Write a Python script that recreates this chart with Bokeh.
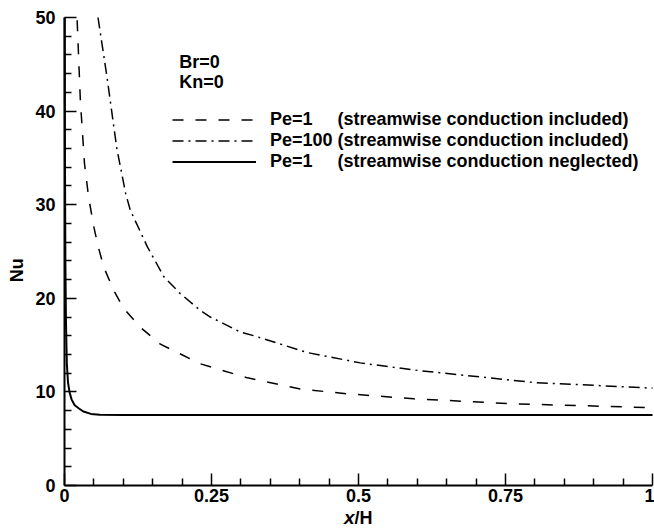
import math
from bokeh.plotting import figure
from bokeh.models import Legend, LegendItem, Label, FixedTicker
from bokeh.embed import file_html
from bokeh.resources import INLINE

# ---- data ----
x_pe1_inc = [0.0215, 0.027, 0.034, 0.041, 0.050, 0.057, 0.067, 0.084, 0.101, 0.129,
             0.163, 0.231, 0.311, 0.401, 0.481, 0.594, 0.764, 0.968, 1.0]
nu_pe1_inc = [49.7, 41.1, 34.4, 30.8, 27.6, 25.6, 23.3, 20.8, 18.9, 16.9,
              15.1, 13.0, 11.5, 10.3, 9.8, 9.26, 8.73, 8.37, 8.32]

x_pe100_inc = [0.057, 0.0726, 0.089, 0.104, 0.112, 0.141, 0.169, 0.197, 0.231, 0.248,
               0.299, 0.322, 0.413, 0.503, 0.600, 0.798, 1.0]
nu_pe100_inc = [50.0, 43.5, 36.0, 31.2, 29.4, 25.5, 22.3, 20.5, 18.7, 18.0,
                16.4, 16.0, 14.2, 13.1, 12.3, 11.0, 10.4]

x_pe1_neg = [0.0004, 0.0008, 0.0015, 0.0025, 0.004, 0.006, 0.0085, 0.012, 0.017,
             0.024, 0.032, 0.045, 0.06, 0.1, 0.5, 1.0]
nu_pe1_neg = [50.0, 35.0, 24.0, 17.5, 13.0, 11.0, 10.0, 9.2, 8.6,
              8.25, 7.9, 7.65, 7.56, 7.54, 7.54, 7.54]

x_ticks = [0, 0.25, 0.5, 0.75, 1]
x_tick_labels = ["0", "0.25", "0.5", "0.75", "1"]
x_minor = [0.05, 0.1, 0.15, 0.2, 0.3, 0.35, 0.4, 0.45, 0.55, 0.6, 0.65, 0.7,
           0.8, 0.85, 0.9, 0.95]
y_ticks = [0, 10, 20, 30, 40, 50]
y_minor = [2, 4, 6, 8, 12, 14, 16, 18, 22, 24, 26, 28, 32, 34, 36, 38, 42, 44, 46, 48]

legend_labels = [
    "Pe=1\u00a0\u00a0\u00a0\u00a0\u00a0(streamwise conduction included)",
    "Pe=100 (streamwise conduction included)",
    "Pe=1\u00a0\u00a0\u00a0\u00a0\u00a0(streamwise conduction neglected)",
]
params = ["Br=0", "Kn=0"]
y_label = "Nu"
x_label_italic = "x"
x_label_rest = "/H"

FONT = "Liberation Sans"

# data window: axes sit at x=0 / y=0 inside a frame that fills the canvas
p = figure(width=654, height=530, x_range=(-0.10884, 1.0034), y_range=(-4.808, 51.816),
           output_backend="svg", toolbar_location=None,
           min_border_left=0, min_border_right=0, min_border_top=0, min_border_bottom=0)
p.outline_line_color = None
p.xgrid.visible = False
p.ygrid.visible = False
p.background_fill_color = "white"
p.border_fill_color = "white"

r1 = p.line(x_pe1_inc, nu_pe1_inc, line_color="black", line_width=1.5, line_dash="11 12")
r2 = p.line(x_pe100_inc, nu_pe100_inc, line_color="black", line_width=1.5, line_dash="11 5 2 5")
r3 = p.line(x_pe1_neg, nu_pe1_neg, line_color="black", line_width=2)

for ax in (p.xaxis[0], p.yaxis[0]):
    ax.fixed_location = 0
    ax.axis_line_color = "black"
    ax.axis_line_width = 2
    ax.major_tick_line_color = "black"
    ax.minor_tick_line_color = "black"
    ax.major_tick_line_width = 1.5
    ax.minor_tick_line_width = 1.5
    ax.major_tick_in = 12
    ax.major_tick_out = 0
    ax.minor_tick_in = 7
    ax.minor_tick_out = 0
    ax.major_label_text_font = FONT
    ax.major_label_text_font_style = "bold"
    ax.major_label_text_font_size = "18px"
    ax.major_label_text_color = "black"

p.xaxis.bounds = (0, 1)
p.xaxis.ticker = FixedTicker(ticks=x_ticks, minor_ticks=x_minor)
p.xaxis.major_label_overrides = {t: s for t, s in zip(x_ticks, x_tick_labels)}
p.xaxis.major_label_standoff = 4
p.yaxis.bounds = (0, 50)
p.yaxis.ticker = FixedTicker(ticks=y_ticks, minor_ticks=y_minor)
p.yaxis.major_label_standoff = 9

legend = Legend(items=[LegendItem(label=legend_labels[0], renderers=[r1]),
                       LegendItem(label=legend_labels[1], renderers=[r2]),
                       LegendItem(label=legend_labels[2], renderers=[r3])],
                location=(172, 358.5), padding=0, margin=0, spacing=-1,
                glyph_width=84, glyph_height=21, label_height=21, label_standoff=14,
                border_line_color=None, background_fill_alpha=0,
                label_text_font=FONT, label_text_font_style="bold",
                label_text_font_size="18px", label_text_color="black")
p.add_layout(legend, "center")

for txt, yv in zip(params, [45.2, 43.07]):
    p.add_layout(Label(x=0.195, y=yv, text=txt, text_font=FONT, text_font_style="bold",
                       text_font_size="18px", text_baseline="middle", text_align="left",
                       text_color="black"))

p.add_layout(Label(x=-0.0808, y=23.0, text=y_label, angle=math.pi / 2,
                   text_font=FONT, text_font_style="bold", text_font_size="18px",
                   text_align="center", text_baseline="middle", text_color="black"))
p.add_layout(Label(x=0.4932, y=-3.42, text=x_label_italic, text_font=FONT,
                   text_font_style="bold italic", text_font_size="19px",
                   text_align="right", text_baseline="middle", text_color="black"))
p.add_layout(Label(x=0.4932, y=-3.42, text=x_label_rest, text_font=FONT,
                   text_font_style="bold", text_font_size="18px",
                   text_align="left", text_baseline="middle", text_color="black"))

open("out.html", "w").write(file_html(p, INLINE))
